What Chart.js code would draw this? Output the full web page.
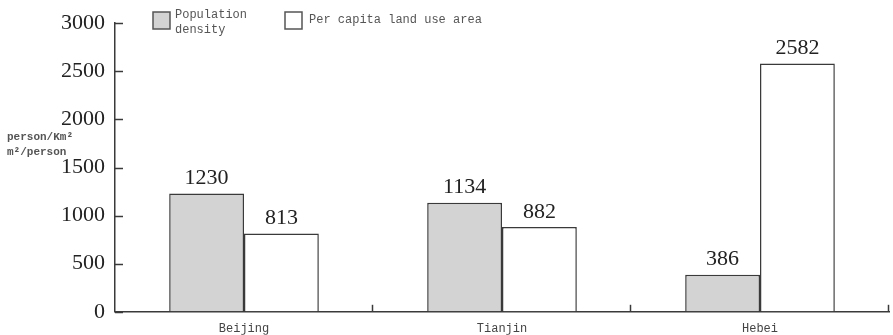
<!DOCTYPE html>
<html>
<head>
<meta charset="utf-8">
<script src="https://cdn.jsdelivr.net/npm/chart.js@4/dist/chart.umd.min.js"></script>
<style>
html,body{margin:0;padding:0;background:#fff;}
#c{display:block;}
</style>
</head>
<body>
<canvas id="c" width="893" height="335"></canvas>
<script>
const categories = ["Beijing", "Tianjin", "Hebei"];
const populationDensity = [1230, 1134, 386];
const perCapitaLand = [813, 882, 2582];
const seriesNames = ["Population density", "Per capita land use area"];
const legendLines = [["Population", "density"], ["Per capita land use area"]];
const yTitleLines = ["person/Km\u00B2", "m\u00B2/person"];
const yMin = 0, yMax = 3000, yStep = 500;

const INK = "#3a3a3a";
const MONO = "'Liberation Mono', 'DejaVu Sans Mono', monospace";
const SERIF = "'Liberation Serif', 'DejaVu Serif', serif";

const decorPlugin = {
  id: "decor",
  afterDatasetsDraw(chart) {
    const ctx = chart.ctx;
    const ca = chart.chartArea;
    const ys = chart.scales.y;
    ctx.save();
    ctx.strokeStyle = INK;
    ctx.lineWidth = 1.5;
    ys.ticks.forEach(t => {
      const py = Math.round(ys.getPixelForValue(t.value)) + 0.5;
      ctx.beginPath();
      ctx.moveTo(ca.left, py);
      ctx.lineTo(ca.left + 8, py);
      ctx.stroke();
    });
    const n = categories.length;
    for (let i = 1; i <= n; i++) {
      const px = Math.round(ca.left + (ca.right - ca.left) * i / n) - 0.5;
      ctx.beginPath();
      ctx.moveTo(px, ca.bottom);
      ctx.lineTo(px, ca.bottom - 7);
      ctx.stroke();
    }
    ctx.fillStyle = "#222";
    ctx.font = "22px " + SERIF;
    ctx.textAlign = "center";
    ctx.textBaseline = "bottom";
    chart.data.datasets.forEach((ds, di) => {
      const meta = chart.getDatasetMeta(di);
      meta.data.forEach((bar, i) => {
        ctx.fillText(String(ds.data[i]), bar.x, bar.y - 4);
      });
    });
    const boxes = [{x: 153, y: 12}, {x: 285, y: 12}];
    chart.data.datasets.forEach((ds, di) => {
      const b = boxes[di];
      ctx.fillStyle = ds.backgroundColor;
      ctx.fillRect(b.x, b.y, 17, 17);
      ctx.strokeStyle = "#555";
      ctx.lineWidth = 1.5;
      ctx.strokeRect(b.x, b.y, 17, 17);
      ctx.fillStyle = "#555";
      ctx.font = "12px " + MONO;
      ctx.textAlign = "left";
      ctx.textBaseline = "middle";
      const lines = legendLines[di];
      if (lines.length === 1) {
        ctx.fillText(lines[0], b.x + 24, b.y + 8);
      } else {
        lines.forEach((ln, k) => ctx.fillText(ln, b.x + 22, b.y + 3 + k * 15));
      }
    });
    ctx.fillStyle = "#555";
    ctx.font = "bold 11px " + MONO;
    ctx.textAlign = "left";
    ctx.textBaseline = "middle";
    yTitleLines.forEach((ln, k) => ctx.fillText(ln, 7, 137 + k * 15));
    ctx.restore();
  }
};

new Chart(document.getElementById("c"), {
  type: "bar",
  data: {
    labels: categories,
    datasets: [
      {
        label: seriesNames[0],
        data: populationDensity,
        backgroundColor: "#d3d3d3",
        borderColor: INK,
        borderWidth: 1.5,
        barPercentage: 1.0,
        categoryPercentage: 0.58
      },
      {
        label: seriesNames[1],
        data: perCapitaLand,
        backgroundColor: "#ffffff",
        borderColor: INK,
        borderWidth: 1.5,
        barPercentage: 1.0,
        categoryPercentage: 0.58
      }
    ]
  },
  options: {
    responsive: false,
    animation: false,
    layout: { padding: { top: 22, right: 4, bottom: 0, left: 0 } },
    plugins: {
      legend: { display: false },
      tooltip: { enabled: false },
      title: { display: false }
    },
    scales: {
      x: {
        grid: { display: true, drawOnChartArea: false, drawTicks: false },
        border: { display: true, color: INK, width: 1.5 },
        ticks: { color: "#444", font: { family: MONO, size: 12 }, padding: 10 },
        afterFit(s) { s.height = 23; }
      },
      y: {
        min: yMin,
        max: yMax,
        grid: { display: true, drawOnChartArea: false, drawTicks: false },
        border: { display: true, color: INK, width: 1.5 },
        ticks: {
          stepSize: yStep,
          color: "#222",
          font: { family: SERIF, size: 22 },
          padding: 10,
          callback: v => String(v)
        },
        afterFit(s) { s.width = 115; }
      }
    }
  },
  plugins: [decorPlugin]
});
</script>
</body>
</html>
